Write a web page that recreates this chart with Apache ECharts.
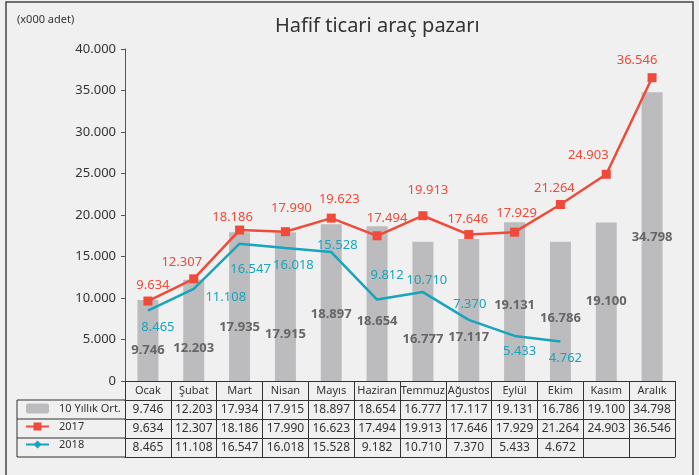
<!DOCTYPE html>
<html>
<head>
<meta charset="utf-8">
<script src="https://cdn.jsdelivr.net/npm/echarts@6/dist/echarts.min.js"></script>
<style>
  html, body { margin: 0; padding: 0; background: #f0f0f0; }
  #chart { width: 699px; height: 475px; }
</style>
</head>
<body>
<div id="chart"></div>
<script>
// aylar
const months = ['Ocak', 'Şubat', 'Mart', 'Nisan', 'Mayıs', 'Haziran', 'Temmuz', 'Ağustos', 'Eylül', 'Ekim', 'Kasım', 'Aralık'];
const seriesNames = ['10 Yıllık Ort.', '2017', '2018'];

// grafikte çizilen değerler
const avg10 = [9746, 12203, 17935, 17915, 18897, 18654, 16777, 17117, 19131, 16786, 19100, 34798];
const y2017 = [9634, 12307, 18186, 17990, 19623, 17494, 19913, 17646, 17929, 21264, 24903, 36546];
const y2018 = [8465, 11108, 16547, 16018, 15528, 9812, 10710, 7370, 5433, 4762];

// tablodaki değerler (grafikten biraz farklı)
const tableAvg = [9746, 12203, 17934, 17915, 18897, 18654, 16777, 17117, 19131, 16786, 19100, 34798];
const table2017 = [9634, 12307, 18186, 17990, 16623, 17494, 19913, 17646, 17929, 21264, 24903, 36546];
const table2018 = [8465, 11108, 16547, 16018, 15528, 9182, 10710, 7370, 5433, 4672, null, null];

// etiket kaydırmaları (Excel'de elle yerleştirilmiş)
const barLabelDy = [10, 18, 21, 28, 12, 18, 28, 27, 4, 7, 0, 1];
const off2017 = [[5, -16], [-12, -17], [-7, -13], [6, -23], [8, -19], [10, -18], [5, -25], [-1, -15], [2, -19], [-6, -16], [-18, -19], [-15, -17]];
const off2018 = [[10, 17], [32, 8], [11, 26], [8, 17], [6, -7], [10, -24], [4, -12], [1, -16], [5, 15], [5, 17]];

const fmt = n => n == null ? '' : String(n).replace(/\B(?=(\d{3})+(?!\d))/g, '.');

const FONT = 'Noto Sans';
const ROW = 19;
const tableRows = [tableAvg, table2017, table2018];

const lineColor = '#333';
const xAxes = [{
  type: 'category',
  data: months,
  position: 'bottom',
  axisLine: { lineStyle: { color: lineColor, width: 1 } },
  axisTick: { show: true, length: ROW, lineStyle: { color: lineColor } },
  axisLabel: { interval: 0, margin: 4, color: '#333', fontSize: 11, fontFamily: FONT }
}];
tableRows.forEach((row, k) => {
  xAxes.push({
    type: 'category',
    data: months,
    position: 'bottom',
    offset: ROW * (k + 1),
    axisLine: { lineStyle: { color: lineColor, width: 1 } },
    axisTick: { show: true, length: ROW, lineStyle: { color: lineColor } },
    axisLabel: {
      interval: 0, margin: 4, color: '#333', fontSize: 12, fontFamily: FONT,
      formatter: (v, i) => fmt(row[i])
    }
  });
});
xAxes.push({
  type: 'category',
  data: months,
  position: 'bottom',
  offset: ROW * 4,
  axisLine: { lineStyle: { color: lineColor, width: 1 } },
  axisTick: { show: false },
  axisLabel: { show: false }
});

const chart = echarts.init(document.getElementById('chart'));

const option = {
  backgroundColor: '#f0f0f0',
  animation: false,
  textStyle: { fontFamily: FONT },
  title: [
    {
      text: 'Hafif ticari araç pazarı',
      left: 270, top: 11,
      textStyle: { fontSize: 20, fontWeight: 'normal', color: '#333', fontFamily: FONT }
    },
    {
      text: '(x000 adet)',
      left: 12, top: 9,
      textStyle: { fontSize: 11, fontWeight: 'normal', color: '#333', fontFamily: FONT }
    }
  ],
  legend: {
    data: seriesNames,
    orient: 'vertical',
    left: 25, top: 403,
    padding: 0,
    itemGap: 7,
    itemWidth: 23, itemHeight: 10,
    selectedMode: false,
    textStyle: { fontSize: 11, color: '#333', fontFamily: FONT, padding: [0, 0, 0, 5] }
  },
  grid: { left: 125, right: 24, top: 49, bottom: 94 },
  xAxis: xAxes,
  yAxis: {
    type: 'value',
    min: 0, max: 40000, interval: 5000,
    axisLine: { show: true, lineStyle: { color: '#555' } },
    axisTick: { show: true, length: 4, lineStyle: { color: '#555' } },
    splitLine: { show: false },
    axisLabel: { color: '#333', fontSize: 13, fontFamily: FONT, margin: 9, formatter: v => fmt(v) }
  },
  series: [
    {
      name: seriesNames[0],
      type: 'bar',
      data: avg10.map((v, i) => ({ value: v, label: { offset: [0, barLabelDy[i]] } })),
      barWidth: 21,
      itemStyle: { color: '#bcbcbe' },
      label: {
        show: true, position: 'inside',
        color: '#666', fontSize: 13, fontWeight: 'bold', fontFamily: FONT,
        formatter: p => fmt(p.value)
      }
    },
    {
      name: seriesNames[1],
      type: 'line',
      data: y2017.map((v, i) => ({ value: v, label: { offset: off2017[i] } })),
      symbol: 'rect', symbolSize: 9,
      lineStyle: { color: '#f04a3a', width: 2.5 },
      itemStyle: { color: '#f04a3a' },
      label: {
        show: true, position: 'inside',
        color: '#f04a3a', fontSize: 13, fontFamily: FONT,
        formatter: p => fmt(p.value)
      },
      z: 3
    },
    {
      name: seriesNames[2],
      type: 'line',
      data: y2018.map((v, i) => ({ value: v, label: { offset: off2018[i] } })),
      symbol: 'diamond', symbolSize: 0,
      lineStyle: { color: '#17a4bd', width: 2.5 },
      itemStyle: { color: '#17a4bd' },
      label: {
        show: true, position: 'inside',
        color: '#17a4bd', fontSize: 13, fontFamily: FONT,
        formatter: p => fmt(p.value)
      },
      z: 4
    }
  ],
  graphic: [
    { type: 'rect', shape: { x: 6, y: 2, width: 687, height: 490 }, style: { fill: 'none', stroke: '#444', lineWidth: 1.5 }, silent: true },
    { type: 'line', shape: { x1: 17, y1: 400, x2: 125, y2: 400 }, style: { stroke: lineColor, lineWidth: 1 } },
    { type: 'line', shape: { x1: 17, y1: 419, x2: 125, y2: 419 }, style: { stroke: lineColor, lineWidth: 1 } },
    { type: 'line', shape: { x1: 17, y1: 438, x2: 125, y2: 438 }, style: { stroke: lineColor, lineWidth: 1 } },
    { type: 'line', shape: { x1: 17, y1: 457, x2: 125, y2: 457 }, style: { stroke: lineColor, lineWidth: 1 } },
    { type: 'line', shape: { x1: 17, y1: 400, x2: 17, y2: 457 }, style: { stroke: lineColor, lineWidth: 1 } }
  ]
};

chart.setOption(option);
</script>
</body>
</html>
